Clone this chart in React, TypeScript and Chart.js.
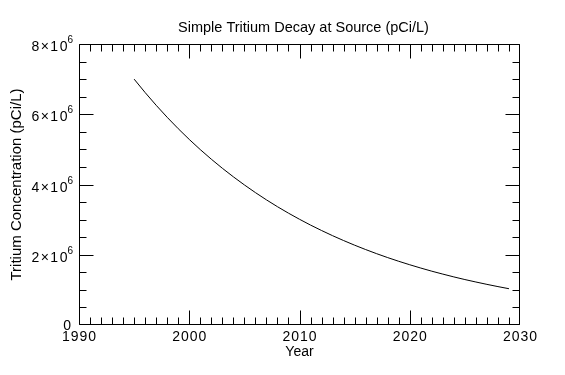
import { useEffect, useRef } from "react";
import { Chart, registerables } from "chart.js";

Chart.register(...registerables);

const chartTitle = "Simple Tritium Decay at Source (pCi/L)";
const xAxisTitle = "Year";
const yAxisTitle = "Tritium Concentration (pCi/L)";

const years = [
  1995, 1996, 1997, 1998, 1999, 2000, 2001, 2002, 2003, 2004, 2005, 2006,
  2007, 2008, 2009, 2010, 2011, 2012, 2013, 2014, 2015, 2016, 2017, 2018,
  2019, 2020, 2021, 2022, 2023, 2024, 2025, 2026, 2027, 2028, 2029,
];
const concentration = [
  7.0e6, 6.617e6, 6.255e6, 5.913e6, 5.589e6, 5.283e6, 4.994e6, 4.721e6,
  4.463e6, 4.219e6, 3.988e6, 3.77e6, 3.563e6, 3.368e6, 3.184e6, 3.01e6,
  2.845e6, 2.69e6, 2.543e6, 2.404e6, 2.272e6, 2.148e6, 2.03e6, 1.919e6,
  1.814e6, 1.715e6, 1.621e6, 1.532e6, 1.449e6, 1.369e6, 1.294e6, 1.224e6,
  1.157e6, 1.093e6, 1.033e6,
];

const xTickValues = [1990, 2000, 2010, 2020, 2030];
const xTickLabels = ["1990", "2000", "2010", "2020", "2030"];
const yTickValues = [0, 2e6, 4e6, 6e6, 8e6];
const yTickMantissas = ["0", "2", "4", "6", "8"];
const yTickExponents = ["", "6", "6", "6", "6"];

const X_MIN = 1990;
const X_MAX = 2030;
const X_MINOR_STEP = 1;
const Y_MIN = 0;
const Y_MAX = 8e6;
const Y_MINOR_STEP = 0.5e6;

const FONT = '"Liberation Sans", Arial, Helvetica, sans-serif';

const clamp = (v: number, a: number, b: number) => Math.min(Math.max(v, a), b);

const idlPlugin = {
  id: "idlFrame",
  afterDraw(chart: any) {
    const ctx = chart.ctx as any;
    const xs = chart.scales.x;
    const ys = chart.scales.y;
    const area = chart.chartArea;
    const L = Math.round(xs.getPixelForValue(X_MIN)) + 0.5;
    const R = Math.round(xs.getPixelForValue(X_MAX)) - 0.5;
    const B = Math.round(ys.getPixelForValue(Y_MIN)) - 0.5;
    const T = Math.round(ys.getPixelForValue(Y_MAX)) + 0.5;

    ctx.save();
    ctx.strokeStyle = "#000";
    ctx.lineWidth = 1;
    ctx.beginPath();
    ctx.rect(L, T, R - L, B - T);
    for (let v = X_MIN; v <= X_MAX + 1e-9; v += X_MINOR_STEP) {
      const major = xTickValues.includes(v);
      const len = major ? 14 : 7;
      const px = clamp(Math.round(xs.getPixelForValue(v)) + 0.5, L, R);
      ctx.moveTo(px, B);
      ctx.lineTo(px, B - len);
      ctx.moveTo(px, T);
      ctx.lineTo(px, T + len);
    }
    for (let v = Y_MIN; v <= Y_MAX + 1; v += Y_MINOR_STEP) {
      const major = yTickValues.includes(v);
      const len = major ? 14 : 7;
      const py = clamp(Math.round(ys.getPixelForValue(v)) + 0.5, T, B);
      ctx.moveTo(L, py);
      ctx.lineTo(L + len, py);
      ctx.moveTo(R, py);
      ctx.lineTo(R - len, py);
    }
    ctx.stroke();

    ctx.fillStyle = "#000";
    ctx.textBaseline = "alphabetic";

    // x tick labels
    ctx.font = `14px ${FONT}`;
    ctx.letterSpacing = "1px";
    ctx.textAlign = "center";
    xTickValues.forEach((v, i) => {
      ctx.fillText(xTickLabels[i], xs.getPixelForValue(v) + 0.5, B + 16);
    });

    // y tick labels
    const rightEdge = area.left - 6;
    yTickValues.forEach((v, i) => {
      const py = ys.getPixelForValue(v);
      const exp = yTickExponents[i];
      ctx.textAlign = "right";
      if (exp) {
        ctx.letterSpacing = "0px";
        ctx.font = `10px ${FONT}`;
        ctx.fillText(exp, rightEdge, py - 1);
        const x = rightEdge - ctx.measureText(exp).width;
        ctx.font = `14px ${FONT}`;
        ctx.letterSpacing = "1.5px";
        ctx.fillText(yTickMantissas[i] + "\u00d710", x + 1.5, py + 7);
      } else {
        ctx.font = `14px ${FONT}`;
        ctx.letterSpacing = "0px";
        ctx.fillText(yTickMantissas[i], area.left - 8, py + 4.5);
      }
    });
    ctx.letterSpacing = "0px";

    // title
    ctx.font = `14.5px ${FONT}`;
    ctx.textAlign = "center";
    ctx.fillText(chartTitle, (area.left + area.right) / 2 + 4, 32);

    // x axis title
    ctx.font = `14px ${FONT}`;
    ctx.fillText(xAxisTitle, (area.left + area.right) / 2, 356);

    // y axis title
    ctx.save();
    ctx.translate(21, (area.top + area.bottom) / 2);
    ctx.rotate(-Math.PI / 2);
    ctx.font = `15px ${FONT}`;
    ctx.textAlign = "center";
    ctx.fillText(yAxisTitle, 0, 0);
    ctx.restore();

    ctx.restore();
  },
};

export default function App() {
  const canvasRef = useRef<HTMLCanvasElement | null>(null);

  useEffect(() => {
    if (!canvasRef.current) return;
    const chart = new Chart(canvasRef.current, {
      type: "line",
      data: {
        datasets: [
          {
            data: years.map((y, i) => ({ x: y, y: concentration[i] })),
            borderColor: "#000",
            borderWidth: 1,
            pointRadius: 0,
            tension: 0,
            fill: false,
          },
        ],
      },
      options: {
        responsive: false,
        animation: false,
        events: [],
        layout: { padding: { left: 79, top: 44, right: 45, bottom: 50 } },
        plugins: {
          legend: { display: false },
          title: { display: false },
          tooltip: { enabled: false },
        },
        scales: {
          x: { type: "linear", min: X_MIN, max: X_MAX, display: false },
          y: { type: "linear", min: Y_MIN, max: Y_MAX, display: false },
        },
      },
      plugins: [idlPlugin],
    });
    return () => chart.destroy();
  }, []);

  return (
    <div style={{ position: "absolute", left: 0, top: 0, width: 565, height: 375, background: "#fff" }}>
      <canvas ref={canvasRef} width={565} height={375} />
    </div>
  );
}
